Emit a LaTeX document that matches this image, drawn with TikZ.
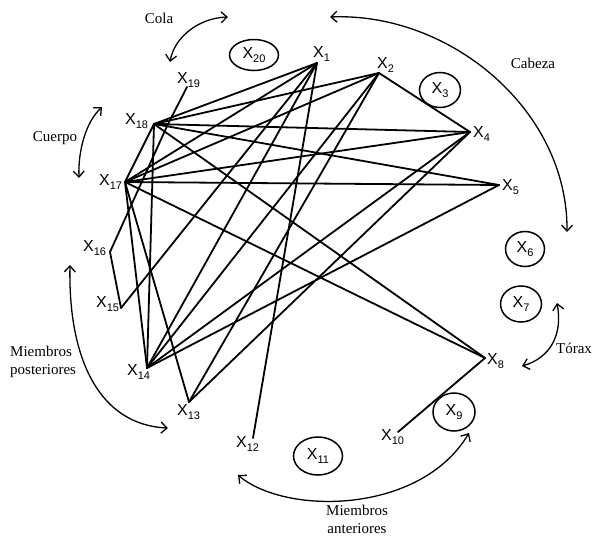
\documentclass[tikz,border=0pt]{standalone}
\usepackage{fontspec}
\setmainfont{Liberation Serif}
\newfontfamily\lsans{Liberation Sans}
\usetikzlibrary{arrows.meta,shapes.geometric}
\newcommand{\xlab}[1]{{\lsans\fontsize{16}{16}\selectfont X\raisebox{-0.25em}{\fontsize{11}{11}\selectfont #1}}}
\begin{document}
\begin{tikzpicture}[x=1pt,y=-1pt,
  edge/.style={line width=1.8pt, line cap=round},
  oval/.style={draw, ellipse, line width=1.5pt, inner sep=0pt},
  lab/.style={anchor=base west, inner sep=0pt},
  brace/.style={line width=1.3pt, {Straight Barb[length=6pt,width=11pt]}-{Straight Barb[length=6pt,width=11pt]}},
  txt/.style={font=\fontsize{15}{18}\selectfont, align=center, inner sep=0pt}]
\useasboundingbox (0,0) rectangle (592,536);
% vertices
\coordinate (v1) at (317,63);
\coordinate (v2) at (379,73);
\coordinate (v4) at (470,132);
\coordinate (v5) at (499,185);
\coordinate (v8) at (485,358);
\coordinate (v10) at (398,432);
\coordinate (v12) at (253,438);
\coordinate (v13) at (189,402);
\coordinate (v14) at (147,368);
\coordinate (v15) at (121,308);
\coordinate (v16) at (110,252);
\coordinate (v17) at (125,182);
\coordinate (v18) at (154,124);
\coordinate (v18b) at (168,124);
\coordinate (v19) at (187,87);
% edges
\foreach \a/\b in {v19/v18b, v16/v18b, v18/v18b, v18/v1, v18/v2, v18/v4, v18/v5, v18/v8, v18/v17, v18/v14,
  v17/v1, v17/v2, v17/v4, v17/v5, v17/v8, v17/v14, v17/v13, v16/v15, v15/v1,
  v14/v1, v14/v2, v14/v4, v14/v5, v13/v2, v13/v4, v12/v1, v2/v4, v8/v10}
  \draw[edge] (\a) -- (\b);
% labels
\node[lab] (l1) at (313,57) {\xlab{1}};
\node[lab] (l2) at (377,68) {\xlab{2}};
\node[lab] (l4) at (473,137) {\xlab{4}};
\node[lab] (l5) at (502,190) {\xlab{5}};
\node[lab] (l8) at (487,364) {\xlab{8}};
\node[lab] (l10) at (381,440) {\xlab{10}};
\node[lab] (l12) at (236,447) {\xlab{12}};
\node[lab] (l13) at (177,415) {\xlab{13}};
\node[lab] (l14) at (127,375) {\xlab{14}};
\node[lab] (l15) at (96,307) {\xlab{15}};
\node[lab] (l16) at (83,251) {\xlab{16}};
\node[lab] (l17) at (99,185) {\xlab{17}};
\node[lab] (l18) at (125,124) {\xlab{18}};
\node[lab] (l19) at (177,83) {\xlab{19}};
% isolated ovals
\node[oval, minimum width=49pt, minimum height=31pt] (e20) at (254,55) {\xlab{20}};
\node[oval, minimum width=41pt, minimum height=35pt] (e3) at (440,90) {\xlab{3}};
\node[oval, minimum width=39pt, minimum height=35pt] (e6) at (525,249) {\xlab{6}};
\node[oval, minimum width=41pt, minimum height=36pt] (e7) at (521,304) {\xlab{7}};
\node[oval, minimum width=42pt, minimum height=38pt] (e9) at (454,412) {\xlab{9}};
\node[oval, minimum width=49pt, minimum height=38pt] (e11) at (318,456) {\xlab{11}};
% region arrows
\draw[brace] (170,62) .. controls (174,38) and (198,18) .. (228,17);
\draw[brace] (102,107) .. controls (86,122) and (78,150) .. (79,178);
\draw[brace] (330,17) .. controls (450,12) and (568,110) .. (567,232);
\draw[brace] (557,303) .. controls (563,335) and (550,358) .. (522,366);
\draw[brace] (70,265) .. controls (68,360) and (100,425) .. (168,428);
\draw[brace] (238,475) .. controls (285,515) and (420,515) .. (469,433);
% region texts
\node[txt] (cola) at (159,18) {Cola};
\node[txt] (cuerpo) at (55,138) {Cuerpo};
\node[txt] (cabeza) at (533,63) {Cabeza};
\node[txt] (torax) at (574,348) {Tórax};
\node[txt, align=left, anchor=west] (mp) at (10,362) {Miembros\\posteriores};
\node[txt] (ma) at (357,519) {Miembros\\anteriores};
\end{tikzpicture}
\end{document}
